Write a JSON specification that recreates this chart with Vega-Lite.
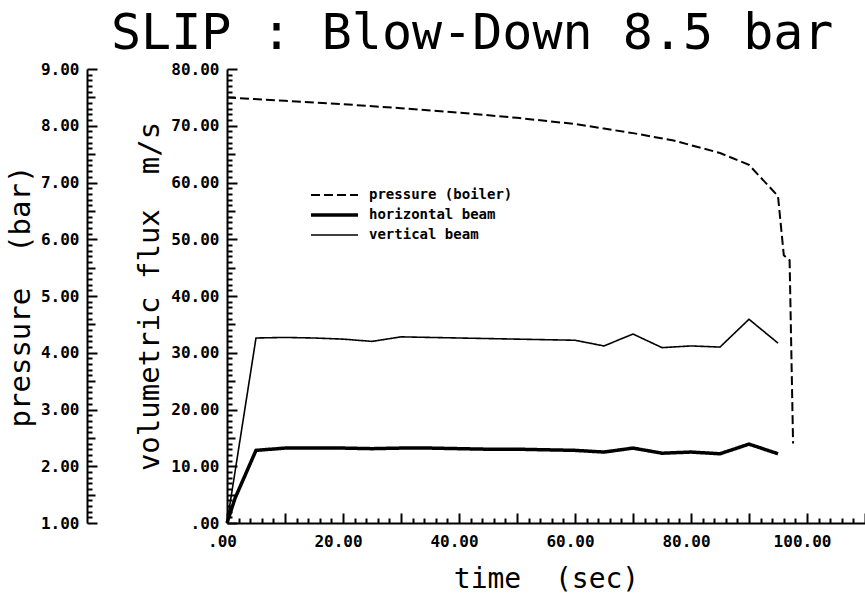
{
  "$schema": "https://vega.github.io/schema/vega-lite/v6.json",
  "width": 638,
  "height": 454,
  "autosize": {"type": "none"},
  "padding": {"left": 227, "top": 69, "right": 0, "bottom": 78},
  "background": "white",
  "config": {"view": {"stroke": null}, "font": "DejaVu Sans Mono"},
  "title": {"text": "SLIP : Blow-Down 8.5 bar", "font": "DejaVu Sans Mono", "fontSize": 50, "fontWeight": "normal", "color": "black", "anchor": "start", "frame": "group", "dx": -116, "offset": 2},
  "datasets": {
    "flux": [
      {"t": 0, "series": "horizontal beam", "flux": 0},
      {"t": 1.4, "series": "horizontal beam", "flux": 4.4},
      {"t": 5, "series": "horizontal beam", "flux": 12.8},
      {"t": 10, "series": "horizontal beam", "flux": 13.2},
      {"t": 15, "series": "horizontal beam", "flux": 13.2},
      {"t": 20, "series": "horizontal beam", "flux": 13.2},
      {"t": 25, "series": "horizontal beam", "flux": 13.1},
      {"t": 30, "series": "horizontal beam", "flux": 13.2},
      {"t": 35, "series": "horizontal beam", "flux": 13.2},
      {"t": 40, "series": "horizontal beam", "flux": 13.1},
      {"t": 45, "series": "horizontal beam", "flux": 13.0},
      {"t": 50, "series": "horizontal beam", "flux": 13.0},
      {"t": 55, "series": "horizontal beam", "flux": 12.9},
      {"t": 60, "series": "horizontal beam", "flux": 12.8},
      {"t": 65, "series": "horizontal beam", "flux": 12.5},
      {"t": 70, "series": "horizontal beam", "flux": 13.2},
      {"t": 75, "series": "horizontal beam", "flux": 12.3},
      {"t": 80, "series": "horizontal beam", "flux": 12.5},
      {"t": 85, "series": "horizontal beam", "flux": 12.2},
      {"t": 90, "series": "horizontal beam", "flux": 13.9},
      {"t": 95, "series": "horizontal beam", "flux": 12.2},
      {"t": 0, "series": "vertical beam", "flux": 0},
      {"t": 5, "series": "vertical beam", "flux": 32.6},
      {"t": 10, "series": "vertical beam", "flux": 32.7},
      {"t": 15, "series": "vertical beam", "flux": 32.6},
      {"t": 20, "series": "vertical beam", "flux": 32.4},
      {"t": 25, "series": "vertical beam", "flux": 32.0},
      {"t": 30, "series": "vertical beam", "flux": 32.8},
      {"t": 35, "series": "vertical beam", "flux": 32.7},
      {"t": 40, "series": "vertical beam", "flux": 32.6},
      {"t": 45, "series": "vertical beam", "flux": 32.5},
      {"t": 50, "series": "vertical beam", "flux": 32.4},
      {"t": 55, "series": "vertical beam", "flux": 32.3},
      {"t": 60, "series": "vertical beam", "flux": 32.2},
      {"t": 65, "series": "vertical beam", "flux": 31.2},
      {"t": 70, "series": "vertical beam", "flux": 33.3},
      {"t": 75, "series": "vertical beam", "flux": 30.9},
      {"t": 80, "series": "vertical beam", "flux": 31.2},
      {"t": 85, "series": "vertical beam", "flux": 31.0},
      {"t": 90, "series": "vertical beam", "flux": 35.9},
      {"t": 95, "series": "vertical beam", "flux": 31.7}
    ],
    "pressure": [
      {"t": 0, "series": "pressure (boiler)", "pressure": 8.50},
      {"t": 10, "series": "pressure (boiler)", "pressure": 8.44},
      {"t": 20, "series": "pressure (boiler)", "pressure": 8.38},
      {"t": 30, "series": "pressure (boiler)", "pressure": 8.31},
      {"t": 40, "series": "pressure (boiler)", "pressure": 8.23},
      {"t": 50, "series": "pressure (boiler)", "pressure": 8.14},
      {"t": 60, "series": "pressure (boiler)", "pressure": 8.03},
      {"t": 65, "series": "pressure (boiler)", "pressure": 7.95},
      {"t": 70, "series": "pressure (boiler)", "pressure": 7.87},
      {"t": 77, "series": "pressure (boiler)", "pressure": 7.74},
      {"t": 85, "series": "pressure (boiler)", "pressure": 7.52},
      {"t": 90, "series": "pressure (boiler)", "pressure": 7.31},
      {"t": 95, "series": "pressure (boiler)", "pressure": 6.76},
      {"t": 96, "series": "pressure (boiler)", "pressure": 5.72},
      {"t": 97, "series": "pressure (boiler)", "pressure": 5.63},
      {"t": 97.6, "series": "pressure (boiler)", "pressure": 2.40}
    ]
  },
  "layer": [
    {
      "data": {"name": "flux"},
      "mark": {"type": "line", "color": "black"},
      "encoding": {
        "x": {"field": "t", "type": "quantitative", "scale": {"domain": [0, 110], "nice": false, "zero": false},
          "axis": {"orient": "bottom", "tickCount": 200,
            "values": [0, 2, 4, 6, 8, 10, 12, 14, 16, 18, 20, 22, 24, 26, 28, 30, 32, 34, 36, 38, 40, 42, 44, 46, 48, 50, 52, 54, 56, 58, 60, 62, 64, 66, 68, 70, 72, 74, 76, 78, 80, 82, 84, 86, 88, 90, 92, 94, 96, 98, 100, 102, 104, 106, 108, 110],
            "labelExpr": "(datum.value % 20 == 0 && datum.value <= 100) ? (datum.value == 0 ? '.00' : format(datum.value, '.2f')) : ''",
            "ticks": true, "tickSize": {"expr": "datum.value % 10 == 0 ? -10 : -5"}, "tickColor": "black", "tickWidth": 2,
            "grid": false, "domain": true, "domainColor": "black", "domainWidth": 2, "labelFont": "DejaVu Sans Mono", "labelFontWeight": "bold", "labelFontSize": 16, "labelColor": "black", "labelPadding": 20, "labelFlush": false, "labelOverlap": false, "labelAlign": "center", "labelOffset": -5,
            "title": "time\u00a0\u00a0(sec)", "titleFont": "DejaVu Sans Mono", "titleFontSize": 28, "titleFontWeight": "normal", "titleColor": "black", "titlePadding": 11}},
        "y": {"field": "flux", "type": "quantitative", "scale": {"domain": [0, 80], "nice": false, "zero": false},
          "axis": {"orient": "left", "tickCount": 200,
            "values": [0, 1, 2, 3, 4, 5, 6, 7, 8, 9, 10, 11, 12, 13, 14, 15, 16, 17, 18, 19, 20, 21, 22, 23, 24, 25, 26, 27, 28, 29, 30, 31, 32, 33, 34, 35, 36, 37, 38, 39, 40, 41, 42, 43, 44, 45, 46, 47, 48, 49, 50, 51, 52, 53, 54, 55, 56, 57, 58, 59, 60, 61, 62, 63, 64, 65, 66, 67, 68, 69, 70, 71, 72, 73, 74, 75, 76, 77, 78, 79, 80],
            "labelExpr": "datum.value % 10 != 0 ? '' : (datum.value == 0 ? '.00' : format(datum.value, '.2f'))",
            "ticks": true, "tickSize": {"expr": "datum.value % 10 == 0 ? -10 : (datum.value % 5 == 0 ? -8 : -5)"}, "tickColor": "black", "tickWidth": 2,
            "grid": false, "domain": true, "domainColor": "black", "domainWidth": 2, "labelFont": "DejaVu Sans Mono", "labelFontWeight": "bold", "labelFontSize": 16, "labelColor": "black", "labelPadding": 18, "labelFlush": false, "labelOverlap": false,
            "title": "volumetric flux\u00a0\u00a0m/s", "titleFont": "DejaVu Sans Mono", "titleFontSize": 29, "titleFontWeight": "normal", "titleColor": "black", "titlePadding": 6}},
        "strokeDash": {"field": "series", "type": "nominal",
          "scale": {"domain": ["pressure (boiler)", "horizontal beam", "vertical beam"], "range": [[9, 4], [1, 0], [1, 0]]},
          "legend": {"title": null, "orient": "none", "legendX": 82, "legendY": 116, "padding": 0, "symbolType": "stroke", "symbolSize": 2209, "symbolStrokeColor": "black", "clipHeight": 20, "rowPadding": 0, "labelOffset": 9, "labelFont": "DejaVu Sans Mono", "labelFontWeight": "bold", "labelFontSize": 14, "labelColor": "black"}},
        "strokeWidth": {"field": "series", "type": "nominal",
          "scale": {"type": "ordinal", "domain": ["pressure (boiler)", "horizontal beam", "vertical beam"], "range": [2, 3.5, 1.6]},
          "legend": {"title": null, "orient": "none", "legendX": 82, "legendY": 116, "padding": 0, "symbolType": "stroke", "symbolSize": 2209, "symbolStrokeColor": "black", "clipHeight": 20, "rowPadding": 0, "labelOffset": 9, "labelFont": "DejaVu Sans Mono", "labelFontWeight": "bold", "labelFontSize": 14, "labelColor": "black"}}
      }
    },
    {
      "data": {"name": "pressure"},
      "mark": {"type": "line", "color": "black"},
      "encoding": {
        "x": {"field": "t", "type": "quantitative", "scale": {"domain": [0, 110], "nice": false, "zero": false}, "axis": null},
        "y": {"field": "pressure", "type": "quantitative", "scale": {"domain": [1, 9], "nice": false, "zero": false},
          "axis": {"orient": "left", "offset": 140, "tickCount": 200,
            "values": [1, 1.1, 1.2, 1.3, 1.4, 1.5, 1.6, 1.7, 1.8, 1.9, 2, 2.1, 2.2, 2.3, 2.4, 2.5, 2.6, 2.7, 2.8, 2.9, 3, 3.1, 3.2, 3.3, 3.4, 3.5, 3.6, 3.7, 3.8, 3.9, 4, 4.1, 4.2, 4.3, 4.4, 4.5, 4.6, 4.7, 4.8, 4.9, 5, 5.1, 5.2, 5.3, 5.4, 5.5, 5.6, 5.7, 5.8, 5.9, 6, 6.1, 6.2, 6.3, 6.4, 6.5, 6.6, 6.7, 6.8, 6.9, 7, 7.1, 7.2, 7.3, 7.4, 7.5, 7.6, 7.7, 7.8, 7.9, 8, 8.1, 8.2, 8.3, 8.4, 8.5, 8.6, 8.7, 8.8, 8.9, 9],
            "labelExpr": "round(datum.value * 10) % 10 == 0 ? format(datum.value, '.2f') : ''",
            "ticks": true, "tickSize": {"expr": "round(datum.value * 10) % 10 == 0 ? -10 : (round(datum.value * 10) % 5 == 0 ? -8 : -5)"}, "tickColor": "black", "tickWidth": 2,
            "grid": false, "domain": true, "domainColor": "black", "domainWidth": 2, "labelFont": "DejaVu Sans Mono", "labelFontWeight": "bold", "labelFontSize": 16, "labelColor": "black", "labelPadding": 18, "labelFlush": false, "labelOverlap": false,
            "title": "pressure\u00a0\u00a0(bar)", "titleFont": "DejaVu Sans Mono", "titleFontSize": 29, "titleFontWeight": "normal", "titleColor": "black", "titlePadding": 5}},
        "strokeDash": {"field": "series", "type": "nominal",
          "scale": {"domain": ["pressure (boiler)", "horizontal beam", "vertical beam"], "range": [[9, 4], [1, 0], [1, 0]]}},
        "strokeWidth": {"field": "series", "type": "nominal",
          "scale": {"type": "ordinal", "domain": ["pressure (boiler)", "horizontal beam", "vertical beam"], "range": [2, 3.5, 1.6]}}
      }
    }
  ],
  "resolve": {"scale": {"y": "independent"}, "axis": {"x": "independent", "y": "independent"}}
}
